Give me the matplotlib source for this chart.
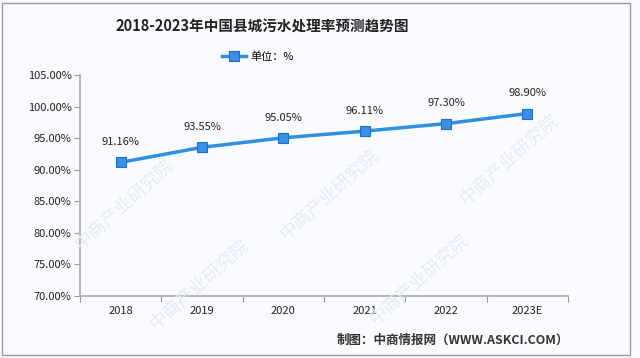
import matplotlib.pyplot as plt
from matplotlib.patches import Rectangle

plt.rcParams['font.family'] = ['Noto Sans CJK SC', 'DejaVu Sans']

years = ['2018', '2019', '2020', '2021', '2022', '2023E']
rates = [91.16, 93.55, 95.05, 96.11, 97.30, 98.90]
yticks = [70, 75, 80, 85, 90, 95, 100, 105]

W, H = 640, 358
fig = plt.figure(figsize=(6.4, 3.58), dpi=100)
bg = '#f9fbfe'
fig.set_facecolor(bg)

def px(x, y):
    return x / W, 1 - y / H

# faint watermarks
wm_color = '#e0ebf6'
for (x, y) in [(125, 205), (330, 195), (510, 160), (200, 285), (420, 280)]:
    fx, fy = px(x, y)
    fig.text(fx, fy, '中商产业研究院', rotation=42, color=wm_color,
             fontsize=13, ha='center', va='center', zorder=0)

# frame
fig.patches.append(Rectangle((2 / W, 1 - 355 / H), 628 / W, 352 / H,
                             transform=fig.transFigure, fill=False,
                             edgecolor='#9a9a9a', lw=1.0, zorder=1))

ax = fig.add_axes([80 / W, 1 - 296 / H, 488 / W, 221 / H])
ax.set_facecolor('none')
x = list(range(len(years)))
line, = ax.plot(x, rates, color='#2f8fe0', lw=2.5, marker='s', ms=7,
                mfc='#3b8fe8', mec='#1f6fc0', mew=0.8, zorder=5)

for xi, v in zip(x, rates):
    ax.annotate('%.2f%%' % v, (xi, v), xytext=(0, 11), textcoords='offset points',
                ha='center', va='bottom', fontsize=8, color='#222222')

ax.set_xlim(-0.5, len(years) - 0.5)
ax.set_ylim(70, 105)
ax.set_yticks(yticks)
ax.set_yticklabels(['%.2f%%' % t for t in yticks], fontsize=8, color='#222222')
ax.set_xticks([i - 0.5 for i in range(len(years) + 1)])
ax.set_xticklabels([])
ax.set_xticks(x, minor=True)
ax.set_xticklabels(years, minor=True, fontsize=8, color='#222222')
ax.tick_params(axis='x', which='major', length=4, color='#999999')
ax.tick_params(axis='x', which='minor', length=0, pad=7)
ax.tick_params(axis='y', length=4, color='#999999', pad=2)
for s in ['top', 'right']:
    ax.spines[s].set_visible(False)
for s in ['left', 'bottom']:
    ax.spines[s].set_color('#aaaaaa')
    ax.spines[s].set_linewidth(1.2)

fx, fy = px(262, 27)
fig.text(fx, fy, '2018-2023年中国县城污水处理率预测趋势图', ha='center', va='center',
         fontsize=10.5, fontweight='bold', color='#222222')

leg = ax.legend([line], ['单位：%'], loc='center', bbox_to_anchor=px(258, 57),
                bbox_transform=fig.transFigure, frameon=False, fontsize=8,
                handlelength=2.2, handletextpad=0.4)

fx, fy = px(569, 340)
fig.text(fx, fy, '制图：中商情报网（WWW.ASKCI.COM）', ha='right', va='center',
         fontsize=9, fontweight='bold', color='#333333')

plt.savefig('out.png', dpi=100, facecolor=bg)
